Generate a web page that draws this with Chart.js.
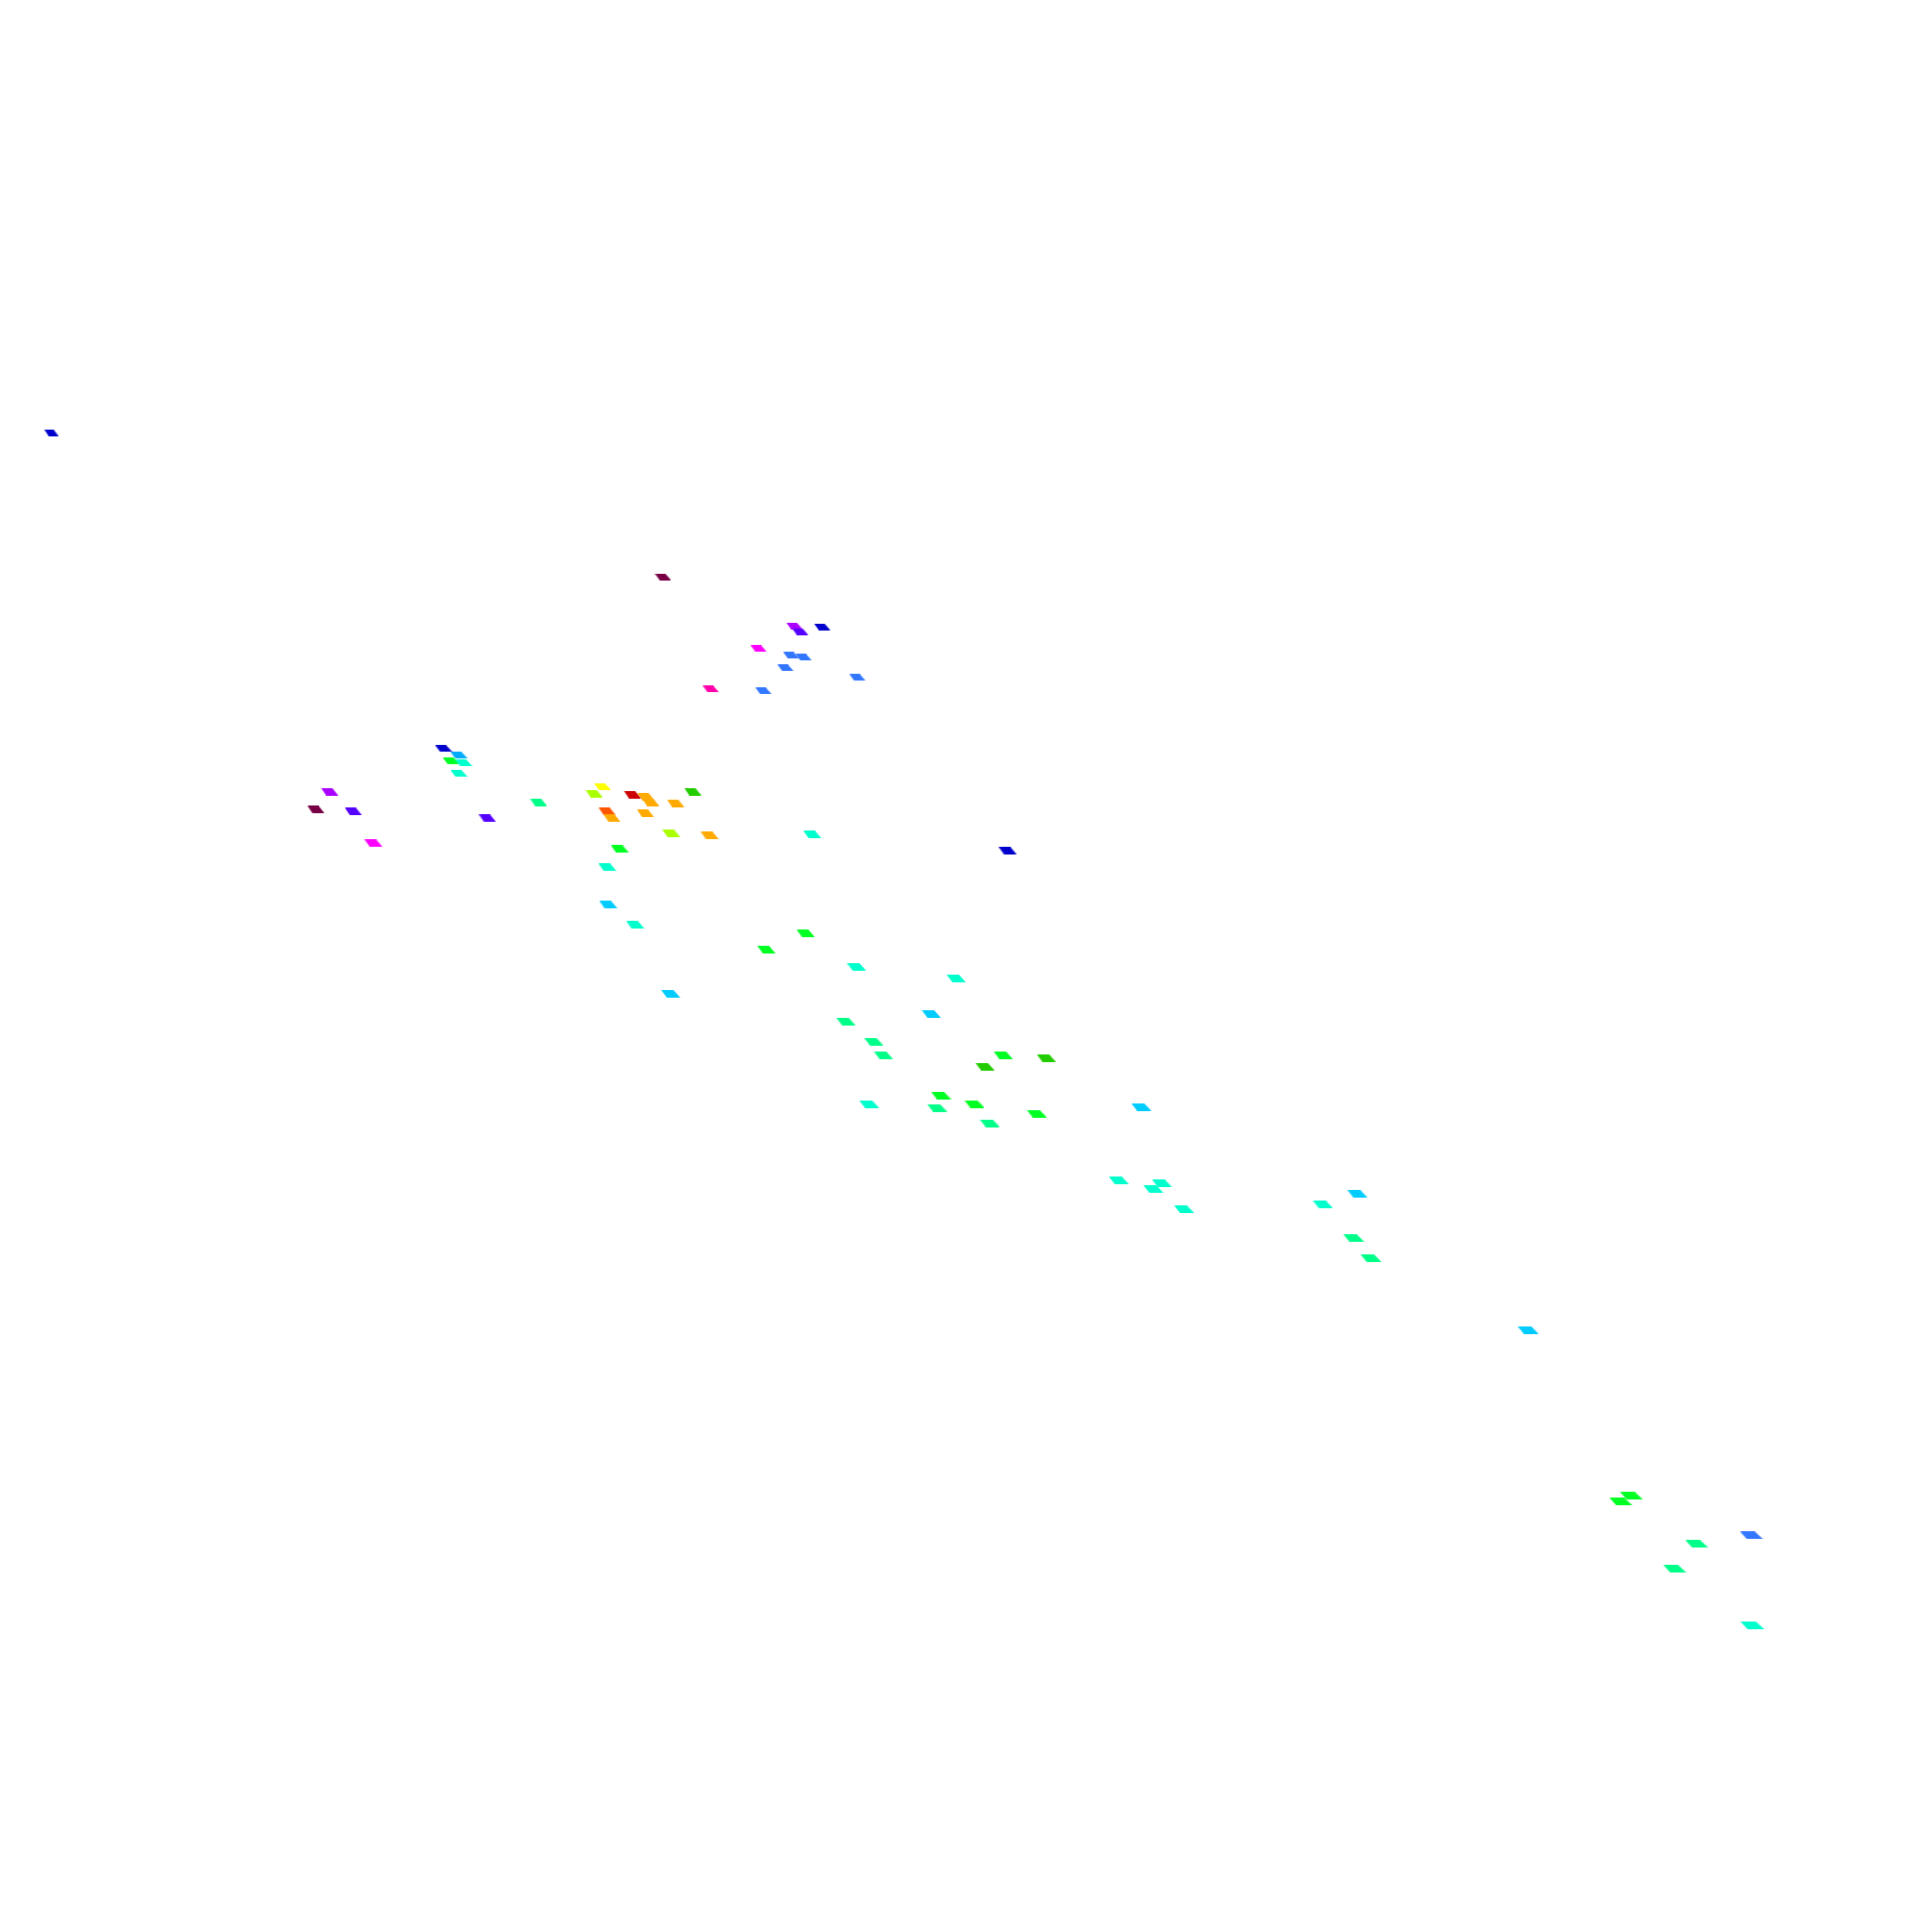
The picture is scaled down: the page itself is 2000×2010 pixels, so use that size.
<!DOCTYPE html>
<html>
<head>
<meta charset="utf-8">
<script src="https://cdn.jsdelivr.net/npm/chart.js@4"></script>
<style>
  html, body { margin: 0; padding: 0; background: #ffffff; }
  #wrap { width: 2000px; height: 2010px; }
</style>
</head>
<body>
<div id="wrap"><canvas id="c" width="2000" height="2010"></canvas></div>
<script>
// Projected point positions (horizontal / vertical coordinate of the view plane)
const xValues = [51,689,826,855,832,789,823,836,817,892,739,794,460,476,468,481,476,626,720,341,617,657,671,676,559,702,327,366,631,671,636,506,698,845,738,387,644,1049,631,632,660,838,797,891,995,697,969,880,909,919,1044,1089,1025,979,904,1014,1188,975,1079,1030,1165,1210,1201,1414,1378,1233,1410,1428,1592,1700,1689,1825,1768,1745,1826];
const yValues = [449,599,650,651,656,674,681,683,694,704,716,718,778,785,791,793,804,818,823,823,825,826,828,834,834,835,842,844,844,846,851,851,867,868,869,877,883,885,902,941,962,971,988,1006,1018,1034,1055,1063,1084,1098,1098,1101,1110,1140,1149,1149,1152,1153,1159,1169,1229,1232,1238,1243,1254,1259,1289,1310,1385,1558,1564,1599,1608,1634,1693];
// Colour class of each point (index into the colour map)
const colorClass = [12,17,14,12,13,15,11,11,11,11,16,11,12,10,6,8,8,3,5,14,4,0,2,2,7,2,17,13,1,2,2,13,4,8,2,15,6,12,8,9,8,6,6,8,8,9,9,7,7,7,6,5,5,6,8,6,9,7,6,7,8,8,8,9,8,8,7,7,9,6,6,11,7,7,8];

const palette = ['#cc0000','#ff5500','#ffaa00','#ffff00','#aaff00','#22cc00','#00ff22','#00ff88','#00ffcc','#00ccff','#00aaff','#3377ff','#0000cc','#5500ff','#aa00ff','#ff00ff','#ff00aa','#770044'];

const points = xValues.map((x, i) => ({ x: x, y: yValues[i], c: colorClass[i] }));

const cache = {};
function marker(y, cls) {
  // perspective: markers further down appear larger
  const w = Math.round(15.5 + (y - 450) * 0.0073);
  const h = Math.round(7.2 + (y - 450) / 1240);
  const key = cls + '_' + w + '_' + h;
  if (cache[key]) return cache[key];
  const cv = document.createElement('canvas');
  cv.width = w; cv.height = h;
  const g = cv.getContext('2d');
  g.fillStyle = palette[cls];
  g.beginPath();
  g.moveTo(0, 0);
  g.lineTo(0.64 * w, 0);
  g.lineTo(w, h);
  g.lineTo(0.3 * w, h);
  g.closePath();
  g.fill();
  cache[key] = cv;
  return cv;
}

new Chart(document.getElementById('c'), {
  type: 'scatter',
  data: {
    datasets: [{
      data: points,
      pointRadius: 3,
      pointHoverRadius: 3,
      pointStyle: (ctx) => ctx.raw ? marker(ctx.raw.y, ctx.raw.c) : 'circle',
      backgroundColor: (ctx) => ctx.raw ? palette[ctx.raw.c] : '#000',
      borderWidth: 0
    }]
  },
  options: {
    responsive: false,
    animation: false,
    devicePixelRatio: 1,
    layout: { padding: 0 },
    plugins: { legend: { display: false }, tooltip: { enabled: false } },
    scales: {
      x: { type: 'linear', min: 0, max: 2000, display: false },
      y: { type: 'linear', min: 0, max: 2010, reverse: true, display: false }
    }
  }
});
</script>
</body>
</html>
